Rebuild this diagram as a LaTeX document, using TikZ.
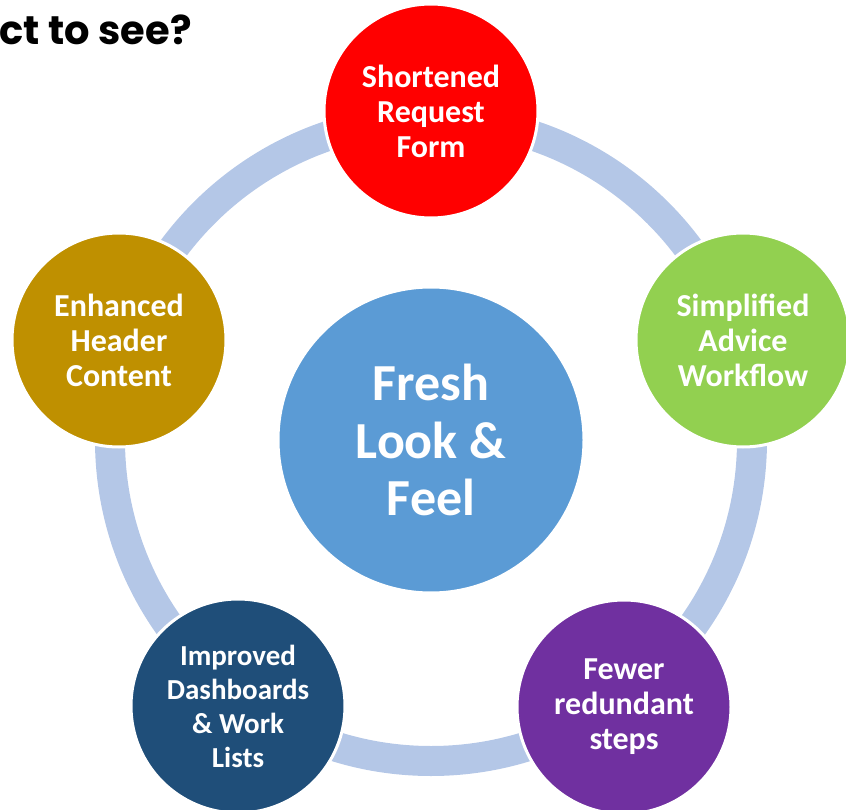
\documentclass[tikz,border=0pt]{standalone}
\usepackage{fontspec}
\setmainfont{Carlito}
\newfontfamily\headfont{Poppins}
\usepackage{xcolor}
\usetikzlibrary{positioning}
\definecolor{ringblue}{HTML}{B4C7E7}
\definecolor{hubblue}{HTML}{5B9BD5}
\definecolor{redfill}{HTML}{FF0000}
\definecolor{greenfill}{HTML}{92D050}
\definecolor{purplefill}{HTML}{7030A0}
\definecolor{navyfill}{HTML}{1F4E79}
\definecolor{goldfill}{HTML}{BF9000}
\tikzset{
  spoke/.style={circle, draw=white, line width=3pt, minimum size=214pt, inner sep=0pt, align=center, text=white, font=\fontsize{32}{35}\selectfont\bfseries},
  hubnode/.style={circle, draw=white, line width=3pt, fill=hubblue, minimum size=306pt, inner sep=0pt, align=center, text=white, font=\fontsize{52}{57.5}\selectfont\bfseries},
  ring/.style={draw=ringblue, line width=30pt},
  heading/.style={align=left, inner sep=0pt, font=\headfont\fontsize{40}{43}\selectfont\bfseries}
}
\begin{document}
\begin{tikzpicture}[x=1pt, y=-1pt]
  \useasboundingbox (0,0) rectangle (846,810);
  \clip (0,0) rectangle (846,810);
  \node[heading, anchor=base east] (title) at (192,45) {What do you\\[12pt]expect to see?};
  \coordinate (mid) at (431,440);
  \draw[ring] (mid) circle[radius=321pt];
  \node[hubnode] (hub) at (mid) {Fresh\\Look \&\\Feel};
  \node[spoke, fill=redfill] (form) at (431,111) {Shortened\\Request\\Form};
  \node[spoke, fill=greenfill] (advice) at (743,340) {Simplified\\Advice\\Workflow};
  \node[spoke, fill=purplefill] (steps) at (624,707) {Fewer\\redundant\\steps};
  \node[spoke, fill=navyfill, font=\fontsize{29}{34}\selectfont\bfseries] (lists) at (238,706) {Improved\\Dashboards\\\& Work\\Lists};
  \node[spoke, fill=goldfill] (header) at (119,340) {Enhanced\\Header\\Content};
\end{tikzpicture}
\end{document}
